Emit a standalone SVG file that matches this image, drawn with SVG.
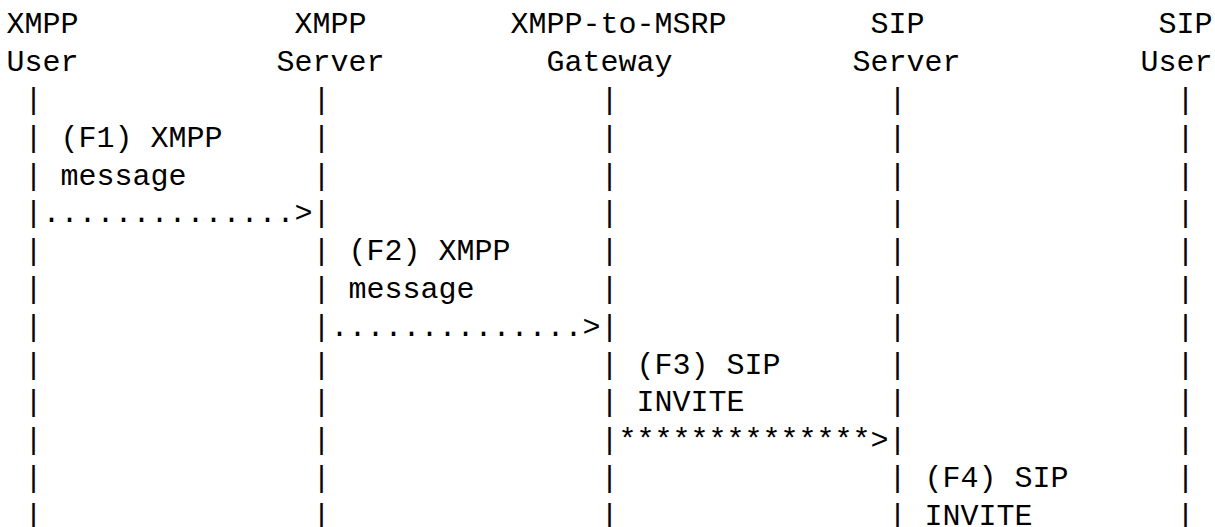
<svg xmlns="http://www.w3.org/2000/svg" width="1215" height="527" viewBox="0 0 1215 527">
<style>
text{font-family:"Liberation Mono","DejaVu Sans Mono",monospace;font-size:30px;fill:#000;white-space:pre}
</style>
<rect width="1215" height="527" fill="#fff"/>
<g id="xmpp-user">
<text x="6.5" y="33.3">XMPP</text>
<text x="6.5" y="71.1">User</text>
<text x="24.5"><tspan x="24.5" y="108.9">|</tspan><tspan x="24.5" y="146.7">|</tspan><tspan x="24.5" y="184.5">|</tspan><tspan x="24.5" y="222.3">|</tspan><tspan x="24.5" y="260.1">|</tspan><tspan x="24.5" y="297.9">|</tspan><tspan x="24.5" y="335.7">|</tspan><tspan x="24.5" y="373.5">|</tspan><tspan x="24.5" y="411.3">|</tspan><tspan x="24.5" y="449.1">|</tspan><tspan x="24.5" y="486.9">|</tspan><tspan x="24.5" y="524.7">|</tspan></text>
</g>
<g id="xmpp-server">
<text x="294.5" y="33.3">XMPP</text>
<text x="276.5" y="71.1">Server</text>
<text x="312.5"><tspan x="312.5" y="108.9">|</tspan><tspan x="312.5" y="146.7">|</tspan><tspan x="312.5" y="184.5">|</tspan><tspan x="312.5" y="222.3">|</tspan><tspan x="312.5" y="260.1">|</tspan><tspan x="312.5" y="297.9">|</tspan><tspan x="312.5" y="335.7">|</tspan><tspan x="312.5" y="373.5">|</tspan><tspan x="312.5" y="411.3">|</tspan><tspan x="312.5" y="449.1">|</tspan><tspan x="312.5" y="486.9">|</tspan><tspan x="312.5" y="524.7">|</tspan></text>
</g>
<g id="gateway">
<text x="510.5" y="33.3">XMPP-to-MSRP</text>
<text x="546.5" y="71.1">Gateway</text>
<text x="600.5"><tspan x="600.5" y="108.9">|</tspan><tspan x="600.5" y="146.7">|</tspan><tspan x="600.5" y="184.5">|</tspan><tspan x="600.5" y="222.3">|</tspan><tspan x="600.5" y="260.1">|</tspan><tspan x="600.5" y="297.9">|</tspan><tspan x="600.5" y="335.7">|</tspan><tspan x="600.5" y="373.5">|</tspan><tspan x="600.5" y="411.3">|</tspan><tspan x="600.5" y="449.1">|</tspan><tspan x="600.5" y="486.9">|</tspan><tspan x="600.5" y="524.7">|</tspan></text>
</g>
<g id="sip-server">
<text x="870.5" y="33.3">SIP</text>
<text x="852.5" y="71.1">Server</text>
<text x="888.5"><tspan x="888.5" y="108.9">|</tspan><tspan x="888.5" y="146.7">|</tspan><tspan x="888.5" y="184.5">|</tspan><tspan x="888.5" y="222.3">|</tspan><tspan x="888.5" y="260.1">|</tspan><tspan x="888.5" y="297.9">|</tspan><tspan x="888.5" y="335.7">|</tspan><tspan x="888.5" y="373.5">|</tspan><tspan x="888.5" y="411.3">|</tspan><tspan x="888.5" y="449.1">|</tspan><tspan x="888.5" y="486.9">|</tspan><tspan x="888.5" y="524.7">|</tspan></text>
</g>
<g id="sip-user">
<text x="1158.5" y="33.3">SIP</text>
<text x="1140.5" y="71.1">User</text>
<text x="1176.5"><tspan x="1176.5" y="108.9">|</tspan><tspan x="1176.5" y="146.7">|</tspan><tspan x="1176.5" y="184.5">|</tspan><tspan x="1176.5" y="222.3">|</tspan><tspan x="1176.5" y="260.1">|</tspan><tspan x="1176.5" y="297.9">|</tspan><tspan x="1176.5" y="335.7">|</tspan><tspan x="1176.5" y="373.5">|</tspan><tspan x="1176.5" y="411.3">|</tspan><tspan x="1176.5" y="449.1">|</tspan><tspan x="1176.5" y="486.9">|</tspan><tspan x="1176.5" y="524.7">|</tspan></text>
</g>
<g id="connectors">
<g id="f1">
<text x="60.5" y="146.7">(F1) XMPP</text>
<text x="60.5" y="184.5">message</text>
<text x="42.5" y="222.3">..............&gt;</text>
</g>
<g id="f2">
<text x="348.5" y="260.1">(F2) XMPP</text>
<text x="348.5" y="297.9">message</text>
<text x="330.5" y="335.7">..............&gt;</text>
</g>
<g id="f3">
<text x="636.5" y="373.5">(F3) SIP</text>
<text x="636.5" y="411.3">INVITE</text>
<text x="618.5" y="449.1">**************&gt;</text>
</g>
<g id="f4">
<text x="924.5" y="486.9">(F4) SIP</text>
<text x="924.5" y="524.7">INVITE</text>
</g>
</g>
</svg>
